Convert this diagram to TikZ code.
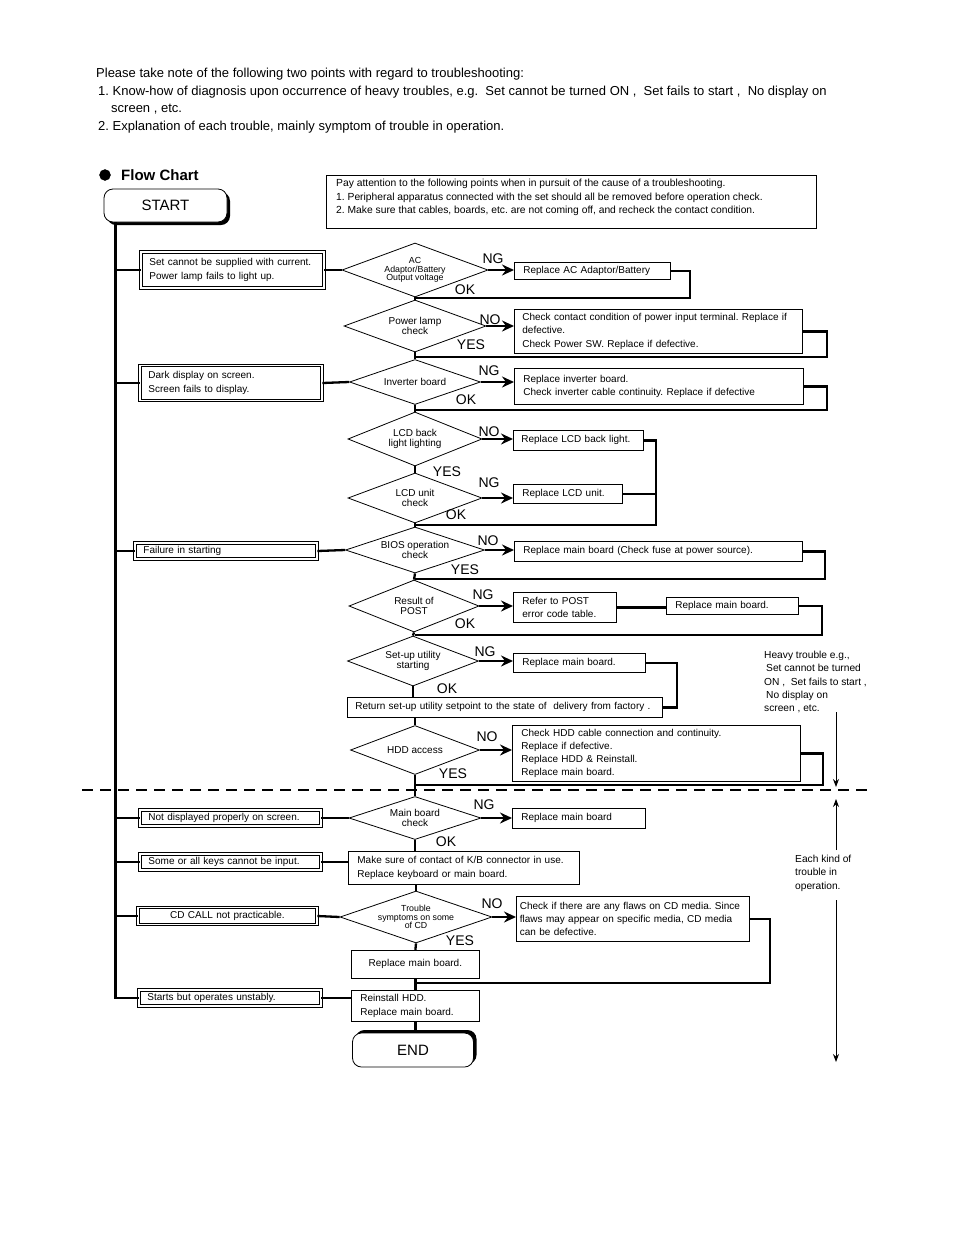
\documentclass[tikz,border=0pt]{standalone}
\usepackage{fontspec}
\setmainfont{Liberation Sans}
\usetikzlibrary{shapes.geometric,arrows.meta,shadows}

\newcommand{\boxfont}{\fontsize{10}{13.3}\selectfont}
\newcommand{\diafont}{\fontsize{10}{10.6}\selectfont}
\newcommand{\tinyfont}{\fontsize{8.8}{8.6}\selectfont}

\tikzset{
  flow/.style={line width=2.3pt},
  go/.style={line width=2.3pt,-{Stealth[length=12pt,width=11pt,inset=4pt]}},
  thin arrow/.style={line width=0.8pt,-{Stealth[length=8pt,width=6pt]}},
  chk/.style={draw,diamond,line width=0.8pt,inner sep=0pt,aspect=2.7,align=center,font=\diafont},
  causebox/.style={draw,double,double distance=1.4pt,line width=0.9pt,anchor=west,inner xsep=8.5pt,inner ysep=0pt,align=left,font=\boxfont},
  fixbox/.style={draw,line width=0.8pt,anchor=north west,inner xsep=9pt,inner ysep=0pt,align=left,font=\boxfont},
  termbox/.style={draw,line width=0.8pt,rounded corners=9pt,fill=white,minimum width=123pt,minimum height=33pt,
    font=\fontsize{15}{15}\selectfont},
  lbl/.style={inner sep=0pt,font=\fontsize{14}{14}\selectfont},
  notetxt/.style={anchor=north west,inner sep=0pt,align=left,font=\fontsize{10.2}{13.2}\selectfont},
  cut/.style={line width=2.2pt,dash pattern=on 11pt off 7pt}
}

\begin{document}
\frenchspacing
\begin{tikzpicture}[x=1pt,y=-1pt]
\useasboundingbox (0,0) rectangle (954,1235);

% introduction
\node[anchor=north west,inner sep=0pt,align=left,font=\fontsize{13}{17.6}\selectfont] (intro) at (96,68)
  {Please take note of the following two points with regard to troubleshooting:\\
   \hspace*{2pt}1. Know-how of diagnosis upon occurrence of heavy troubles, e.g.~ Set cannot be turned ON ,~ Set fails to start ,~ No display on\\
   \hspace*{15pt}screen , etc.\\
   \hspace*{2pt}2. Explanation of each trouble, mainly symptom of trouble in operation.};

\node[circle,draw,fill,minimum size=11pt,inner sep=0pt] (dot) at (105,175) {};
\node[anchor=west,inner sep=0pt,font=\bfseries\fontsize{15}{15}\selectfont] (title) at (121,175) {Flow Chart};

\node[draw,line width=0.8pt,anchor=north west,minimum width=490pt,minimum height=53pt] (attn) at (326,175) {};
\node[notetxt,font=\fontsize{10.3}{13.5}\selectfont] (attntxt) at (336,179)
  {Pay attention to the following points when in pursuit of the cause of a troubleshooting.\\
   1. Peripheral apparatus connected with the set should all be removed before operation check.\\
   2. Make sure that cables, boards, etc. are not coming off, and recheck the contact condition.};

% start / end
\node[termbox,general shadow={fill=black,shadow xshift=3pt,shadow yshift=-3pt}] (start) at (165.5,205.5) {START};
\node[termbox,minimum width=121pt,minimum height=34pt,general shadow={fill=black,shadow xshift=3pt,shadow yshift=3pt}]
  (finish) at (413,1050) {END};

% symptoms
\node[causebox,text width=166pt,minimum height=36pt] (nocur) at (140.5,270)
  {Set cannot be supplied with current.\\Power lamp fails to light up.};
\node[causebox,text width=165pt,minimum height=35pt] (dark) at (139.5,383)
  {Dark display on screen.\\Screen fails to display.};
\node[causebox,text width=165pt,minimum height=16pt] (fail) at (134.5,551) {Failure in starting};
\node[causebox,text width=164pt,minimum height=16pt] (nodisp) at (139.5,818) {Not displayed properly on screen.};
\node[causebox,text width=164pt,minimum height=16pt] (nokey) at (139.5,862) {Some or all keys cannot be input.};
\node[causebox,text width=162pt,minimum height=17pt,align=center] (cdcall) at (137.5,916) {CD CALL not practicable.};
\node[causebox,text width=165pt,minimum height=16pt] (unstable) at (138.5,998) {Starts but operates unstably.};

% checks
\node[chk,font=\tinyfont,minimum width=146pt,minimum height=54pt] (acchk) at (415,270) {AC\\Adaptor/Battery\\Output voltage};
\node[chk,minimum width=142pt,minimum height=52pt] (pwrchk) at (415,326) {Power lamp\\check};
\node[chk,minimum width=131pt,minimum height=45pt] (invchk) at (415,382) {Inverter board};
\node[chk,minimum width=134pt,minimum height=54pt] (blchk) at (415,439) {LCD back\\light lighting};
\node[chk,minimum width=134pt,minimum height=50pt] (lcdchk) at (415,498) {LCD unit\\check};
\node[chk,minimum width=139pt,minimum height=46pt] (bioschk) at (415,550) {BIOS operation\\check};
\node[chk,minimum width=130pt,minimum height=52pt] (postchk) at (414,606) {Result of\\POST};
\node[chk,minimum width=131pt,minimum height=50pt] (setupchk) at (413,661) {Set-up utility\\starting};
\node[chk,minimum width=129pt,minimum height=49pt] (hddchk) at (415,750) {HDD access};
\node[chk,minimum width=132pt,minimum height=43pt] (mbchk) at (415,818) {Main board\\check};
\node[chk,font=\tinyfont,minimum width=152pt,minimum height=50pt] (cdchk) at (416,917) {Trouble\\symptoms on some\\of CD};

% remedies
\node[fixbox,text width=138pt,minimum height=17pt] (acfix) at (514,262) {Replace AC Adaptor/Battery};
\node[fixbox,inner xsep=8pt,text width=272pt,minimum height=44pt] (pwrfix) at (514,309)
  {Check contact condition of power input terminal. Replace if\\defective.\\Check Power SW. Replace if defective.};
\node[fixbox,text width=271pt,minimum height=36pt] (invfix) at (514,368)
  {Replace inverter board.\\Check inverter cable continuity. Replace if defective};
\node[fixbox,inner xsep=8pt,text width=114pt,minimum height=20pt] (blfix) at (513,430) {Replace LCD back light.};
\node[fixbox,text width=91pt,minimum height=19pt] (lcdfix) at (513,484) {Replace LCD unit.};
\node[fixbox,text width=270pt,minimum height=20pt] (biosfix) at (514,541) {Replace main board (Check fuse at power source).};
\node[fixbox,text width=85pt,minimum height=30pt] (postfix) at (513,592) {Refer to POST\\error code table.};
\node[fixbox,text width=114pt,minimum height=17pt] (postmb) at (666,597) {Replace main board.};
\node[fixbox,text width=114pt,minimum height=19pt] (setupfix) at (513,653) {Replace main board.};
\node[fixbox,inner xsep=8pt,text width=299pt,minimum height=20pt] (setupret) at (347,697)
  {Return set-up utility setpoint to the state of~ delivery from factory .};
\node[fixbox,text width=270pt,minimum height=56pt] (hddfix) at (512,725)
  {Check HDD cable connection and continuity.\\Replace if defective.\\Replace HDD \& Reinstall.\\Replace main board.};
\node[fixbox,text width=115pt,minimum height=20pt] (mbfix) at (512,808) {Replace main board};
\node[fixbox,text width=213pt,minimum height=33pt] (kbfix) at (348,851)
  {Make sure of contact of K/B connector in use.\\Replace keyboard or main board.};
\node[fixbox,inner xsep=3.5pt,text width=226pt,minimum height=45pt] (cdfix) at (516,896)
  {Check if there are any flaws on CD media. Since\\flaws may appear on specific media, CD media\\can be defective.};
\node[fixbox,text width=110pt,minimum height=28pt,align=center] (cdmb) at (351,950) {Replace main board.};
\node[fixbox,text width=110pt,minimum height=31pt] (hddre) at (351,990) {Reinstall HDD.\\Replace main board.};

% answers
\foreach \n/\x/\y/\t in {ng1/493/259/NG, ok1/465/290/OK, no2/490/320/NO, yes2/471/345/YES,
    ng3/489/371/NG, ok3/466/400/OK, no4/489/432/NO, yes4/447/472/YES, ng5/489/483/NG, ok5/456/515/OK,
    no6/488/541/NO, yes6/465/570/YES, ng7/483/595/NG, ok7/465/624/OK, ng8/485/652/NG, ok8/447/689/OK,
    no9/487/737/NO, yes9/453/774/YES, ng10/484/805/NG, ok10/446/842/OK, no11/492/904/NO, yes11/460/941/YES}
  \node[lbl] (\n) at (\x,\y) {\t};

% trunk
\coordinate (trunk) at ([xshift=12pt]start.south west);
\draw[flow] (trunk) |- (unstable.west);
\foreach \c in {nocur,dark,fail,nodisp,nokey,cdcall}
  \draw[flow] (trunk |- \c.west) -- (\c.west);

\draw[flow] (nocur.east) -- (acchk.west);
\draw[flow] (dark.east) -- (invchk.west);
\draw[flow] (fail.east) -- (bioschk.west);
\draw[flow] (nodisp.east) -- (mbchk.west);
\draw[flow] (nokey.east) -- (nokey.east -| kbfix.west);
\draw[flow] (cdcall.east) -- (cdchk.west);
\draw[flow] (unstable.east) -- (unstable.east -| hddre.west);

% main column
\foreach \a/\b in {acchk/pwrchk,pwrchk/invchk,invchk/blchk,blchk/lcdchk,lcdchk/bioschk,
    bioschk/postchk,postchk/setupchk,hddchk/mbchk}
  \draw[flow] (\a.south) -- (\b.north);
\draw[flow] (setupchk.south) -- (setupchk.south |- setupret.north);
\draw[flow] (hddchk.north |- setupret.south) -- (hddchk.north);
\draw[flow] (mbchk.south) -- (mbchk.south |- kbfix.north);
\draw[flow] (cdchk.north |- kbfix.south) -- (cdchk.north);
\draw[flow] (cdchk.south) -- (cdmb.north);
\draw[flow] (cdmb.south) -- (hddre.north);
\draw[flow] (hddre.south) -- (hddre.south |- finish.north);

\foreach \d/\f in {acchk/acfix,pwrchk/pwrfix,invchk/invfix,blchk/blfix,lcdchk/lcdfix,bioschk/biosfix,
    postchk/postfix,setupchk/setupfix,hddchk/hddfix,mbchk/mbfix,cdchk/cdfix}
  \draw[go] (\d.east) -- (\d.east -| \f.west);

% back to the column
\coordinate (j1) at (415,298);
\coordinate (j2) at (415,357);
\coordinate (j3) at (415,410);
\coordinate (j5) at (415,525);
\coordinate (j6) at (415,579);
\coordinate (j7) at (415,635);
\coordinate (j9) at (415,785);
\coordinate (j11) at (415,983);
\draw[flow] (acfix.east) -- ++(19,0) |- (j1);
\draw[flow] (pwrfix.east) -- ++(24,0) |- (j2);
\draw[flow] (invfix.east) -- ++(23,0) |- (j3);
\draw[flow] (blfix.east) -- ++(12,0) coordinate (lcdx) |- (j5);
\draw[flow] (lcdfix.east) -- (lcdfix.east -| lcdx);
\draw[flow] (biosfix.east) -- ++(22,0) |- (j6);
\draw[flow] (postfix.east) -- (postfix.east -| postmb.west);
\draw[flow] (postmb.east) -- ++(23,0) |- (j7);
\draw[flow] (setupfix.east) -- ++(31,0) |- (setupret.east);
\draw[flow] (hddfix.east) -- ++(22,0) |- (j9);
\draw[flow] (cdfix.east) -- ++(20,0) |- (j11);

% heavy / operation split
\coordinate (cutL) at (82,790);
\coordinate (cutR) at (873,790);
\draw[cut] (cutL) -- (cutR);

\node[notetxt] (heavy) at (764,651)
  {Heavy trouble e.g.,\\\hspace*{2pt}Set cannot be turned\\ON ,~ Set fails to start ,\\\hspace*{2pt}No display on\\screen , etc.};
\node[notetxt] (each) at (795,855) {Each kind of\\trouble in\\operation.};
\coordinate (hvA) at (836,712);
\coordinate (hvB) at (836,787);
\coordinate (ekA) at (836,850);
\coordinate (ekB) at (836,799);
\coordinate (ekC) at (836,900);
\coordinate (ekD) at (836,1062);
\draw[thin arrow] (hvA) -- (hvB);
\draw[thin arrow] (ekA) -- (ekB);
\draw[thin arrow] (ekC) -- (ekD);
\end{tikzpicture}
\end{document}
